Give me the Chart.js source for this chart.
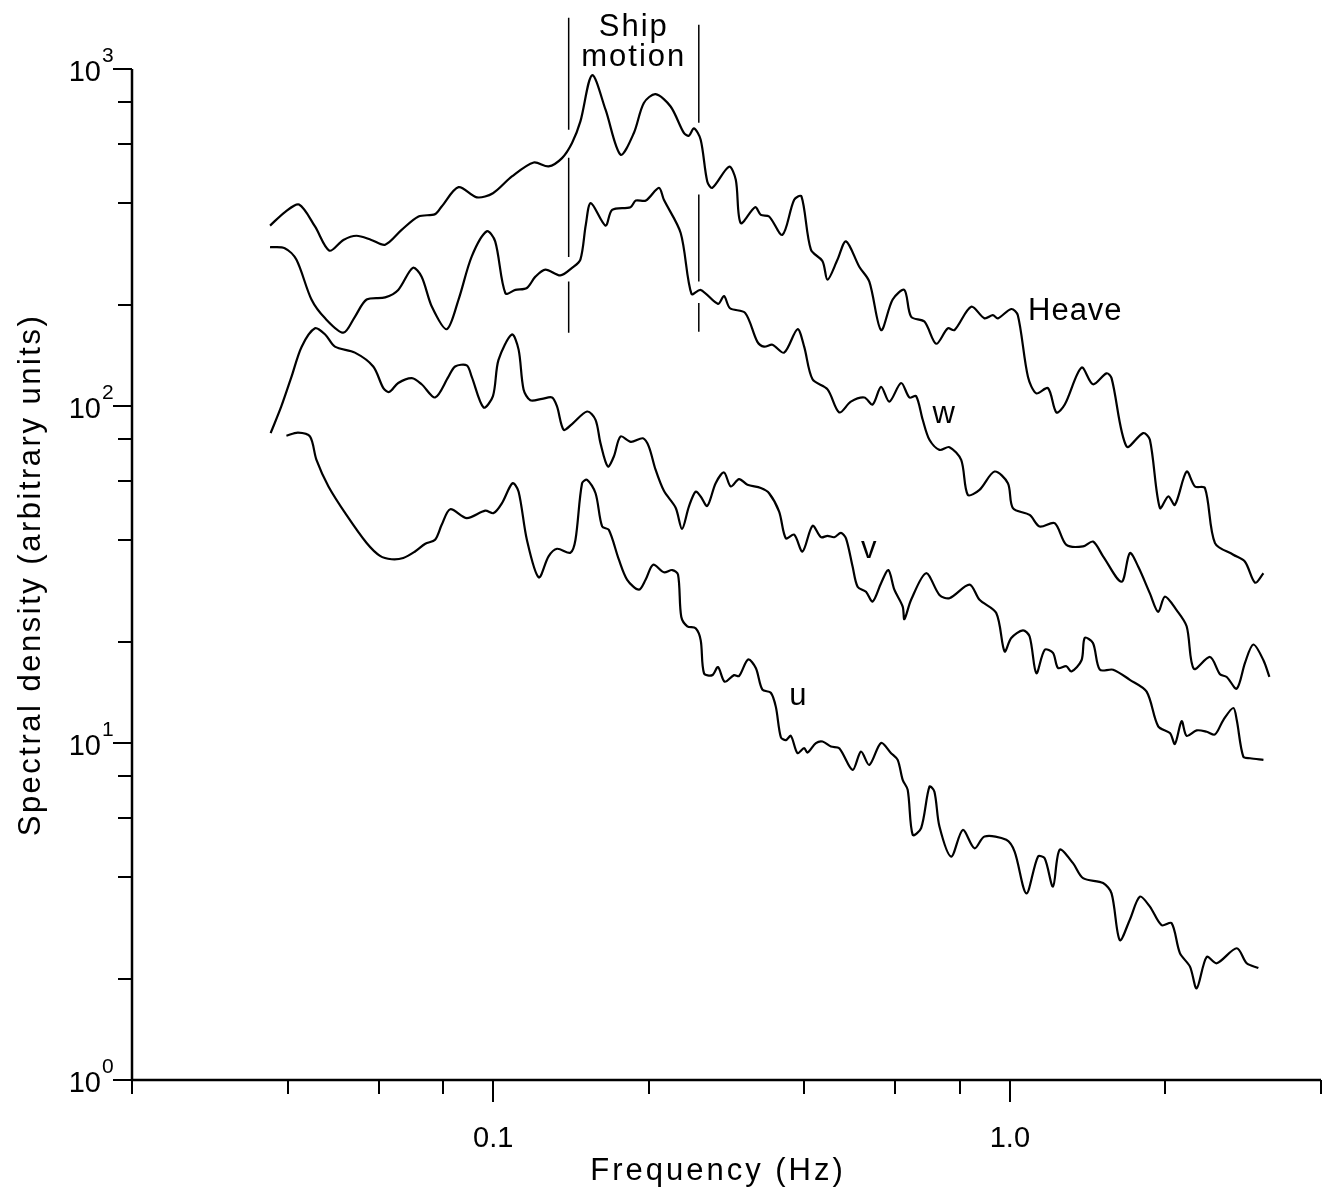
<!DOCTYPE html>
<html>
<head>
<meta charset="utf-8">
<script src="https://cdn.jsdelivr.net/npm/chart.js@4"></script>
<style>
  html, body { margin: 0; padding: 0; background: #fff; }
  #wrap { width: 1324px; height: 1195px; }
</style>
</head>
<body>
<div id="wrap"><canvas id="spec" width="1324" height="1195"></canvas></div>
<script>
// spectra: frequency (Hz) and spectral density (arbitrary units)
const heaveF = [0.0370, 0.0396, 0.0421, 0.0452, 0.0482, 0.0513, 0.0544, 0.0581, 0.0618, 0.0665,
  0.0717, 0.0772, 0.0795, 0.0857, 0.0930, 0.0999, 0.1087, 0.1198, 0.128, 0.1359,
  0.1421, 0.1475, 0.1554, 0.165, 0.1764, 0.1872, 0.1957, 0.2062, 0.2205, 0.2339,
  0.2392, 0.2446, 0.2521, 0.2596, 0.2655, 0.2861, 0.2948, 0.3014, 0.3213, 0.3296,
  0.342, 0.3629, 0.3824, 0.395, 0.412, 0.4339, 0.4437, 0.4639, 0.4817, 0.5111,
  0.5345, 0.5632, 0.5931, 0.6249, 0.6439, 0.6832, 0.7199, 0.7581, 0.7811, 0.8417,
  0.8931, 0.9268, 0.9478, 1.006, 1.036, 1.084, 1.125, 1.185, 1.230, 1.277,
  1.376, 1.448, 1.538, 1.573, 1.682, 1.811, 1.866, 1.951, 2.025, 2.086,
  2.198, 2.281, 2.385, 2.494, 2.706, 2.851, 2.982, 3.095];
const heaveS = [343, 377, 396, 341, 289, 311, 320, 311, 301, 333,
  365, 371, 391, 446, 416, 428, 480, 528, 514, 544,
  603, 699, 959, 757, 557, 646, 793, 842, 774, 646,
  634, 667, 617, 464, 444, 513, 469, 349, 389, 369,
  365, 322, 409, 419, 291, 269, 237, 272, 308, 259,
  234, 168, 207, 221, 184, 178, 153, 170, 168, 197,
  182, 186, 182, 194, 186, 122, 109, 113, 95.7, 101,
  130, 116, 125, 121, 75.8, 83.1, 79.4, 49.8, 53.9, 50.9,
  63.9, 57.7, 57.1, 39.2, 36.2, 34.5, 29.9, 31.9];

const wF = [0.0370, 0.0395, 0.0416, 0.0445, 0.0473, 0.0513, 0.0540, 0.0569, 0.0618, 0.0655,
  0.0699, 0.0727, 0.0761, 0.0813, 0.0857, 0.0909, 0.0972, 0.1009, 0.1056, 0.1104,
  0.1162, 0.1207, 0.1262, 0.1349, 0.1421, 0.1475, 0.1511, 0.1545, 0.165, 0.1699,
  0.1844, 0.1888, 0.1975, 0.2093, 0.214, 0.2306, 0.242, 0.2521, 0.2723, 0.2797,
  0.2873, 0.3073, 0.3246, 0.3345, 0.3471, 0.3657, 0.3881, 0.3998, 0.415, 0.4437,
  0.4675, 0.4923, 0.5226, 0.5424, 0.5632, 0.5844, 0.6158, 0.639, 0.6584, 0.6781,
  0.6987, 0.7306, 0.7639, 0.8049, 0.8289, 0.8734, 0.9339, 0.9911, 1.0135, 1.0919,
  1.1418, 1.2209, 1.2862, 1.3853, 1.448, 1.5149, 1.6443, 1.7065, 1.7709, 1.866,
  1.9365, 1.9952, 2.1018, 2.198, 2.27, 2.4393, 2.5504, 2.6279, 2.7479, 2.851,
  2.9587, 3.095, 3.1784];
const wS = [296, 294, 272, 207, 182, 165, 184, 207, 210, 221,
  257, 242, 197, 169, 207, 278, 330, 308, 216, 221,
  224, 242, 254, 244, 257, 272, 345, 400, 343, 382,
  389, 407, 407, 444, 409, 326, 215, 221, 201, 212,
  195, 189, 155, 150, 152, 144, 169, 150, 120, 112,
  95.7, 103, 106, 101, 114, 103, 117, 106, 107, 91.0,
  79.4, 74.1, 75.5, 69.2, 54.5, 56.4, 63.9, 59.0, 49.8, 47.5,
  43.9, 44.9, 38.7, 38.3, 39.6, 35.8, 30.1, 36.6, 33.4, 27.8,
  24.5, 27.2, 24.8, 22.2, 16.6, 18.0, 16.0, 15.7, 14.5, 17.3,
  19.6, 17.6, 15.7];

const vF = [0.0371, 0.0389, 0.0407, 0.0426, 0.0452, 0.0473, 0.0494, 0.0540, 0.0586, 0.0613,
  0.0629, 0.0655, 0.0696, 0.0727, 0.0772, 0.0819, 0.0844, 0.0889, 0.0909, 0.0958,
  0.0999, 0.1024, 0.1087, 0.112, 0.1145, 0.118, 0.1243, 0.130, 0.1329, 0.1369,
  0.1421, 0.152, 0.1578, 0.1613, 0.1667, 0.1712, 0.1764, 0.1847, 0.1949, 0.2001,
  0.2062, 0.214, 0.2255, 0.232, 0.2392, 0.2465, 0.2521, 0.2596, 0.2695, 0.2797,
  0.2883, 0.2991, 0.3105, 0.3296, 0.342, 0.3576, 0.3685, 0.3824, 0.3968, 0.415,
  0.4308, 0.4437, 0.4571, 0.471, 0.4817, 0.4961, 0.5073, 0.5266, 0.5424, 0.5632,
  0.5818, 0.5976, 0.6202, 0.6249, 0.6439, 0.6884, 0.7306, 0.7639, 0.8352, 0.8734,
  0.941, 0.9766, 1.006, 1.0598, 1.0919, 1.125, 1.1676, 1.2117, 1.239, 1.2862,
  1.3152, 1.376, 1.3959, 1.448, 1.4928, 1.584, 1.7065, 1.8389, 1.9365, 2.0402,
  2.086, 2.1499, 2.198, 2.2988, 2.4038, 2.494, 2.5883, 2.706, 2.7479, 2.8294,
  2.916, 3.095];
const vS = [83.1, 99.7, 122, 150, 170, 163, 150, 144, 131, 113,
  110, 117, 121, 116, 106, 122, 131, 132, 122, 99.0,
  107, 137, 163, 147, 112, 104, 105, 106, 99.7, 85.0,
  88.4, 96.3, 91.0, 77.6, 66.1, 70.8, 81.2, 78.3, 80.2, 75.8,
  64.7, 56.0, 49.9, 43.2, 50.3, 55.7, 53.9, 50.5, 59.0, 63.5,
  57.7, 60.7, 58.4, 57.1, 55.1, 48.6, 40.5, 41.5, 37.0, 44.1,
  40.8, 41.2, 40.8, 42.0, 40.5, 33.4, 29.1, 28.1, 26.3, 29.8,
  32.6, 28.5, 25.4, 23.3, 26.6, 31.9, 27.5, 26.9, 29.5, 26.6,
  24.3, 18.7, 20.5, 21.6, 20.7, 16.1, 18.9, 18.5, 16.7, 16.9,
  16.3, 17.6, 20.5, 19.8, 16.5, 16.5, 15.4, 14.2, 11.2, 10.7,
  9.94, 11.6, 10.5, 10.9, 10.8, 10.6, 11.7, 12.7, 11.7, 9.11,
  9.01, 8.91];

const uF = [0.0398, 0.0419, 0.0442, 0.0455, 0.048, 0.052, 0.0569, 0.0604, 0.0636, 0.067,
  0.0706, 0.0739, 0.0772, 0.0795, 0.0826, 0.0889, 0.0965, 0.1002, 0.104, 0.109,
  0.112, 0.1162, 0.1225, 0.128, 0.1329, 0.1411, 0.1443, 0.1486, 0.152, 0.1578,
  0.1625, 0.1674, 0.1751, 0.1817, 0.1914, 0.1972, 0.204, 0.214, 0.2221, 0.2279,
  0.2312, 0.2375, 0.2465, 0.2521, 0.2559, 0.2655, 0.2723, 0.2806, 0.2925, 0.2991,
  0.3114, 0.3223, 0.3319, 0.3446, 0.3524, 0.3604, 0.3685, 0.3768, 0.3881, 0.3998,
  0.4058, 0.4213, 0.4339, 0.4504, 0.4675, 0.4961, 0.515, 0.5345, 0.5632, 0.5889,
  0.6065, 0.6202, 0.6342, 0.6485, 0.6733, 0.6987, 0.7144, 0.7306, 0.7697, 0.8106,
  0.8541, 0.8931, 0.984, 1.0212, 1.076, 1.1331, 1.1676, 1.2117, 1.2485, 1.3247,
  1.3853, 1.5149, 1.573, 1.6319, 1.7065, 1.7846, 1.866, 1.966, 2.0557, 2.133,
  2.2311, 2.2988, 2.4038, 2.513, 2.7479, 2.8727, 3.026];
const uS = [81.6, 83.4, 81.2, 69.2, 57.7, 47.5, 39.2, 35.9, 35.1, 35.4,
  37.0, 39.0, 40.1, 44.4, 49.4, 46.5, 48.9, 48.1, 51.5, 59.0,
  55.7, 40.1, 31.0, 35.8, 37.7, 36.7, 40.1, 59.0, 60.4, 55.1,
  43.9, 42.9, 35.0, 30.5, 28.5, 30.5, 33.8, 32.1, 32.6, 31.6,
  23.7, 22.2, 21.9, 20.2, 16.1, 15.9, 16.8, 15.2, 15.9, 15.8,
  17.7, 16.7, 14.4, 14.1, 12.8, 10.4, 10.2, 10.5, 9.33, 9.65,
  9.37, 9.99, 10.1, 9.76, 9.65, 8.32, 9.43, 8.61, 10.0, 9.33,
  8.91, 7.77, 7.26, 5.34, 5.59, 7.42, 7.17, 5.65, 4.60, 5.52,
  4.87, 5.28, 5.16, 4.76, 3.58, 4.60, 4.55, 3.75, 4.82, 4.40,
  3.97, 3.84, 3.58, 2.60, 2.99, 3.50, 3.27, 2.88, 2.92, 2.38,
  2.17, 1.87, 2.32, 2.22, 2.46, 2.22, 2.15];

// ship motion band: two vertical marker lines, broken where the curves cross
const shipLeftF = 0.140;
const shipRightF = 0.25;
const shipLeftSegs = [[1420, 660], [545, 277], [234, 165]];
const shipRightSegs = [[1353, 693], [424, 234], [202, 166]];

// axes
const xMin = 0.02, xMax = 4;
const yMin = 1, yMax = 1000;
const xMajorTicks = [0.1, 1];
const xMinorTicks = [0.02, 0.04, 0.06, 0.08, 0.2, 0.4, 0.6, 0.8, 2, 4];
const xTickLabels = ['0.1', '1.0'];
const yMajorTicks = [1, 10, 100, 1000];
const yExponents = ['0', '1', '2', '3'];
const yMinorTicks = [2, 4, 6, 8, 20, 40, 60, 80, 200, 400, 600, 800];

// curve labels [text, frequency, density]
const curveLabels = [['Heave', 1.084, 180], ['w', 0.708, 89.2], ['v', 0.515, 35.4], ['u', 0.374, 13.0]];

const FONT = '"Liberation Sans", Arial, Helvetica, sans-serif';

function toXY(fs, ss) {
  return fs.map((f, i) => ({ x: f, y: ss[i] }));
}

function segData(f, segs) {
  const out = [];
  segs.forEach(s => {
    out.push({ x: f, y: s[0] }, { x: f, y: s[1] }, { x: f, y: null });
  });
  return out;
}

function curve(label, fs, ss) {
  return {
    label: label,
    data: toXY(fs, ss),
    showLine: true,
    borderColor: '#000',
    borderWidth: 2.2,
    pointRadius: 0,
    tension: 0.3,
    fill: false
  };
}

function marker(label, f, segs) {
  return {
    label: label,
    data: segData(f, segs),
    showLine: true,
    borderColor: '#000',
    borderWidth: 1.5,
    pointRadius: 0,
    tension: 0,
    spanGaps: false,
    clip: false
  };
}

const axesPlugin = {
  id: 'axesPlugin',
  afterDraw(chart) {
    const ctx = chart.ctx;
    const a = chart.chartArea;
    const xs = chart.scales.x;
    const ys = chart.scales.y;
    ctx.save();
    ctx.strokeStyle = '#000';
    ctx.fillStyle = '#000';
    ctx.lineCap = 'butt';

    // axis lines
    ctx.lineWidth = 2.5;
    ctx.beginPath();
    ctx.moveTo(a.left, a.top);
    ctx.lineTo(a.left, a.bottom);
    ctx.lineTo(a.right, a.bottom);
    ctx.stroke();

    ctx.lineWidth = 2;
    ctx.beginPath();
    yMinorTicks.forEach(v => {
      const py = Math.round(ys.getPixelForValue(v));
      ctx.moveTo(a.left - 14, py);
      ctx.lineTo(a.left, py);
    });
    yMajorTicks.forEach(v => {
      const py = Math.round(ys.getPixelForValue(v));
      ctx.moveTo(a.left - 19, py);
      ctx.lineTo(a.left, py);
    });
    xMinorTicks.forEach(v => {
      const px = Math.round(xs.getPixelForValue(v));
      ctx.moveTo(px, a.bottom);
      ctx.lineTo(px, a.bottom + 14);
    });
    xMajorTicks.forEach(v => {
      const px = Math.round(xs.getPixelForValue(v));
      ctx.moveTo(px, a.bottom);
      ctx.lineTo(px, a.bottom + 22);
    });
    ctx.stroke();

    // y tick labels 10^n
    yMajorTicks.forEach((v, i) => {
      const py = ys.getPixelForValue(v);
      ctx.font = '29px ' + FONT;
      ctx.textAlign = 'right';
      ctx.textBaseline = 'alphabetic';
      ctx.fillText('10', a.left - 31, py + 12);
      ctx.font = '21px ' + FONT;
      ctx.textAlign = 'left';
      ctx.fillText(yExponents[i], a.left - 30, py - 7);
    });

    // x tick labels
    ctx.font = '29px ' + FONT;
    ctx.textAlign = 'center';
    ctx.textBaseline = 'alphabetic';
    xMajorTicks.forEach((v, i) => {
      ctx.fillText(xTickLabels[i], xs.getPixelForValue(v), a.bottom + 67);
    });

    // axis titles
    ctx.letterSpacing = '3px';
    ctx.font = '31px ' + FONT;
    ctx.fillText('Frequency (Hz)', 718, 1180);

    ctx.save();
    ctx.letterSpacing = '2.5px';
    ctx.font = '31px ' + FONT;
    ctx.translate(40, 575);
    ctx.rotate(-Math.PI / 2);
    ctx.textAlign = 'center';
    ctx.fillText('Spectral density (arbitrary units)', 0, 0);
    ctx.restore();

    // curve labels
    ctx.letterSpacing = '1px';
    ctx.font = '31px ' + FONT;
    ctx.textAlign = 'left';
    curveLabels.forEach(l => {
      ctx.fillText(l[0], xs.getPixelForValue(l[1]), ys.getPixelForValue(l[2]));
    });

    // ship motion caption, centred between the marker lines
    const cx = (xs.getPixelForValue(shipLeftF) + xs.getPixelForValue(shipRightF)) / 2;
    ctx.textAlign = 'center';
    ctx.letterSpacing = '2px';
    ctx.fillText('Ship', cx, ys.getPixelForValue(1250));
    ctx.fillText('motion', cx, ys.getPixelForValue(1018));
    ctx.restore();
  }
};

const chart = new Chart(document.getElementById('spec').getContext('2d'), {
  type: 'scatter',
  data: {
    datasets: [
      curve('Heave', heaveF, heaveS),
      curve('w', wF, wS),
      curve('v', vF, vS),
      curve('u', uF, uS),
      marker('ship-left', shipLeftF, shipLeftSegs),
      marker('ship-right', shipRightF, shipRightSegs)
    ]
  },
  options: {
    responsive: false,
    animation: false,
    events: [],
    layout: { padding: { left: 132, right: 3, top: 69, bottom: 115 } },
    plugins: {
      legend: { display: false },
      tooltip: { enabled: false }
    },
    scales: {
      x: { type: 'logarithmic', min: xMin, max: xMax, display: false },
      y: { type: 'logarithmic', min: yMin, max: yMax, display: false }
    }
  },
  plugins: [axesPlugin]
});
</script>
</body>
</html>
